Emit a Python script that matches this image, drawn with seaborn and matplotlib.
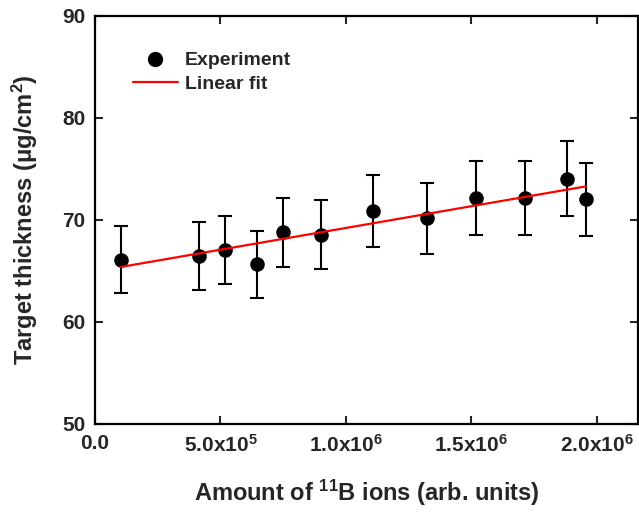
import numpy as np
import pandas as pd
import seaborn as sns
import matplotlib.pyplot as plt
from matplotlib.lines import Line2D

# amount of 11B ions (arb. units) and measured target thickness (ug/cm2)
ions = [1.04e5, 4.15e5, 5.2e5, 6.47e5, 7.48e5, 9.0e5, 1.107e6, 1.325e6,
        1.519e6, 1.715e6, 1.881e6, 1.958e6]
thickness = [66.1, 66.5, 67.06, 65.66, 68.8, 68.56, 70.88, 70.16,
             72.16, 72.16, 74.05, 72.03]
thickness_err = [3.3, 3.35, 3.35, 3.28, 3.4, 3.4, 3.55, 3.5,
                 3.65, 3.65, 3.7, 3.6]

# linear fit end points
fit_x = [1.04e5, 1.958e6]
fit_y = [65.4, 73.3]

x_ticks = [0.0, 5.0e5, 1.0e6, 1.5e6, 2.0e6]
x_ticklabels = ['0.0', '5.0x10$^{5}$', '1.0x10$^{6}$', '1.5x10$^{6}$', '2.0x10$^{6}$']
y_ticks = [50, 60, 70, 80, 90]

sns.set_theme(style="ticks")
plt.rcParams['font.family'] = ['Liberation Sans', 'DejaVu Sans']
plt.rcParams['font.weight'] = 'bold'
plt.rcParams['axes.labelweight'] = 'bold'
plt.rcParams['mathtext.fontset'] = 'custom'
plt.rcParams['mathtext.rm'] = 'Liberation Sans:bold'
plt.rcParams['mathtext.bf'] = 'Liberation Sans:bold'
plt.rcParams['mathtext.default'] = 'bf'

df = pd.DataFrame({'ions': ions, 'thickness': thickness, 'err': thickness_err})
fit_df = pd.DataFrame({'ions': fit_x, 'thickness': fit_y})

fig = plt.figure(figsize=(6.39, 5.12), dpi=100)
ax = fig.add_axes([95 / 639, 88 / 512, 543 / 639, 408 / 512])

ax.errorbar(df['ions'], df['thickness'], yerr=df['err'], fmt='none',
            ecolor='black', elinewidth=1.5, capsize=5, capthick=1.5, zorder=2)
sns.scatterplot(data=df, x='ions', y='thickness', ax=ax, color='black',
                s=110, edgecolor='black', linewidth=0, zorder=3)
sns.lineplot(data=fit_df, x='ions', y='thickness', ax=ax, color='red',
             linewidth=1.6, zorder=4)

ax.set_xlim(0, 2.165e6)
ax.set_ylim(50, 90)
ax.set_xticks(x_ticks)
ax.set_xticklabels(x_ticklabels)
ax.set_yticks(y_ticks)

ax.tick_params(axis='both', which='major', direction='in', length=6, width=1.5,
               labelsize=15, top=True, right=True, pad=7)
for lab in ax.get_xticklabels() + ax.get_yticklabels():
    lab.set_fontweight('bold')
for s in ax.spines.values():
    s.set_linewidth(1.6)
    s.set_color('black')

ax.set_xlabel('Amount of $^{11}$B ions (arb. units)', fontsize=17, fontweight='bold', labelpad=16)
ax.set_ylabel('Target thickness (\u03bcg/cm$^{2}$)', fontsize=17, fontweight='bold', labelpad=16)

handles = [Line2D([], [], marker='o', color='black', linestyle='none', markersize=10),
           Line2D([], [], color='red', linewidth=1.6)]
ax.legend(handles, ['Experiment', 'Linear fit'], loc='upper left',
          bbox_to_anchor=(0.038, 0.955), frameon=False,
          handlelength=2.3, handletextpad=0.35, labelspacing=0.3,
          prop={'weight': 'bold', 'size': 14})

fig.savefig('out.png', dpi=100)
